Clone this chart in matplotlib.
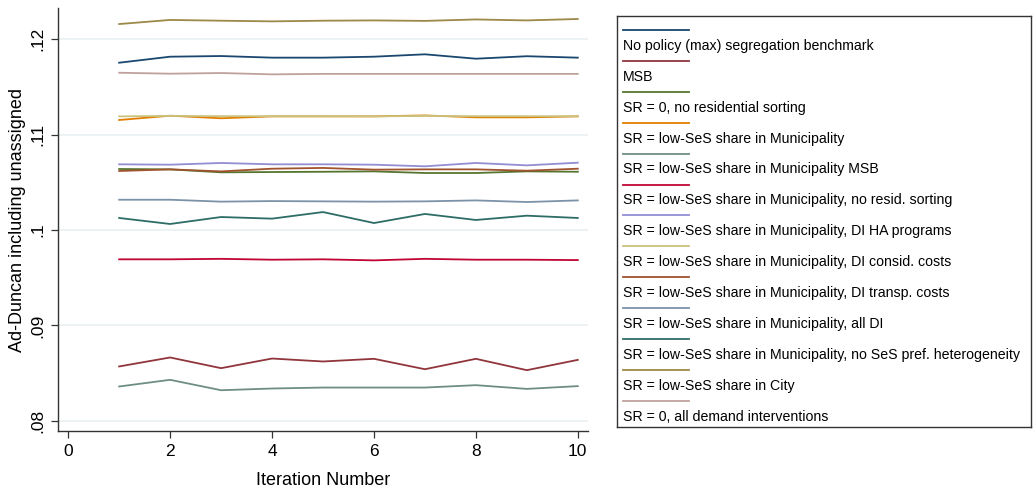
import numpy as np
import matplotlib
matplotlib.use("Agg")
import matplotlib.pyplot as plt

plt.rcParams["font.family"] = ["Liberation Sans", "DejaVu Sans"]

iterations = np.arange(1, 11)

# series in drawing order (Stata s2color palette order)
navy = [0.11752, 0.11815, 0.11822, 0.11805, 0.11805, 0.11815, 0.11840, 0.11794, 0.11820, 0.11805]
maroon = [0.08571, 0.08665, 0.08553, 0.08654, 0.08623, 0.08651, 0.08542, 0.08651, 0.08532, 0.08640]
forest = [0.10639, 0.10635, 0.10604, 0.10607, 0.10610, 0.10614, 0.10597, 0.10597, 0.10614, 0.10610]
orange = [0.11152, 0.11197, 0.11170, 0.11190, 0.11190, 0.11190, 0.11200, 0.11180, 0.11180, 0.11190]
teal = [0.08361, 0.08431, 0.08322, 0.08340, 0.08350, 0.08350, 0.08350, 0.08375, 0.08336, 0.08365]
cranberry = [0.09693, 0.09693, 0.09698, 0.09689, 0.09693, 0.09682, 0.09698, 0.09689, 0.09689, 0.09685]
lavender = [0.10688, 0.10684, 0.10702, 0.10688, 0.10688, 0.10684, 0.10667, 0.10702, 0.10677, 0.10705]
khaki = [0.11190, 0.11195, 0.11192, 0.11192, 0.11192, 0.11190, 0.11195, 0.11192, 0.11192, 0.11192]
sienna = [0.10618, 0.10635, 0.10614, 0.10642, 0.10650, 0.10632, 0.10635, 0.10635, 0.10621, 0.10642]
emidblue = [0.10317, 0.10317, 0.10297, 0.10303, 0.10300, 0.10297, 0.10300, 0.10310, 0.10293, 0.10310]
emerald = [0.10126, 0.10063, 0.10136, 0.10119, 0.10188, 0.10073, 0.10168, 0.10105, 0.10150, 0.10126]
brown = [0.12157, 0.12200, 0.12192, 0.12185, 0.12192, 0.12195, 0.12190, 0.12205, 0.12195, 0.12210]
erose = [0.11647, 0.11637, 0.11644, 0.11630, 0.11635, 0.11635, 0.11635, 0.11635, 0.11635, 0.11635]

series = [navy, maroon, forest, orange, teal, cranberry, lavender,
          khaki, sienna, emidblue, emerald, brown, erose]
colors = ["#1a476f", "#90353b", "#55752f", "#e37e00", "#6e8e84", "#c10534",
          "#938dd2", "#cac27e", "#a0522d", "#7b92a8", "#2d6d66", "#9c8847", "#bfa19c"]

# legend labels as printed (each text sits above a key line; first is blank)
labels = ["", "No policy (max) segregation benchmark", "MSB",
          "SR = 0, no residential sorting",
          "SR = low-SeS share in Municipality",
          "SR = low-SeS share in Municipality MSB",
          "SR = low-SeS share in Municipality, no resid. sorting",
          "SR = low-SeS share in Municipality, DI HA programs",
          "SR = low-SeS share in Municipality, DI consid. costs",
          "SR = low-SeS share in Municipality, DI transp. costs",
          "SR = low-SeS share in Municipality, all DI",
          "SR = low-SeS share in Municipality, no SeS pref. heterogeneity",
          "SR = low-SeS share in City",
          "SR = 0, all demand interventions"]

yticks = [0.08, 0.09, 0.10, 0.11, 0.12]
yticklabels = [".08", ".09", ".1", ".11", ".12"]
xticks = [0, 2, 4, 6, 8, 10]

W, H = 1034, 496
fig = plt.figure(figsize=(W / 100, H / 100), dpi=100)
ax = fig.add_axes([58 / W, 1 - 431 / H, 530 / W, 423 / H])

for vals, c in zip(series, colors):
    ax.plot(iterations, vals, color=c, lw=1.3, solid_joinstyle="miter")

ax.set_xlim(-0.2, 10.2)
ax.set_ylim(0.07895, 0.12325)
ax.set_yticks(yticks)
ax.set_yticklabels(yticklabels, rotation=90, va="center")
ax.set_xticks(xticks)
ax.grid(axis="y", color="#eaf0f2", lw=1.2)
ax.set_axisbelow(True)
for s in ["top", "right"]:
    ax.spines[s].set_visible(False)
for s in ["left", "bottom"]:
    ax.spines[s].set_color("#333333")
    ax.spines[s].set_linewidth(1.0)
ax.tick_params(labelsize=12.5, length=5, width=0.9, color="#333333", pad=4)
ax.set_xlabel("Iteration Number", fontsize=13, labelpad=10)
ax.set_ylabel("Ad-Duncan including unassigned", fontsize=13, labelpad=3)

# legend box drawn in pixel coordinates
lx0, ly0, lx1, ly1 = 617, 16, 1031, 427
lax = fig.add_axes([lx0 / W, 1 - ly1 / H, (lx1 - lx0) / W, (ly1 - ly0) / H])
lax.set_xlim(lx0, lx1)
lax.set_ylim(ly1, ly0)
lax.set_xticks([]); lax.set_yticks([])
for s in lax.spines.values():
    s.set_color("#333333"); s.set_linewidth(1.0)
row = 30.9
for i, c in enumerate(colors):
    yl = 30 + row * i
    lax.plot([623, 689], [yl, yl], color=c, lw=1.3)
for i, lab in enumerate(labels):
    lax.text(623, 30 + row * i - 15, lab, fontsize=10.2, va="center", ha="left")

fig.savefig("out.png", dpi=100)
